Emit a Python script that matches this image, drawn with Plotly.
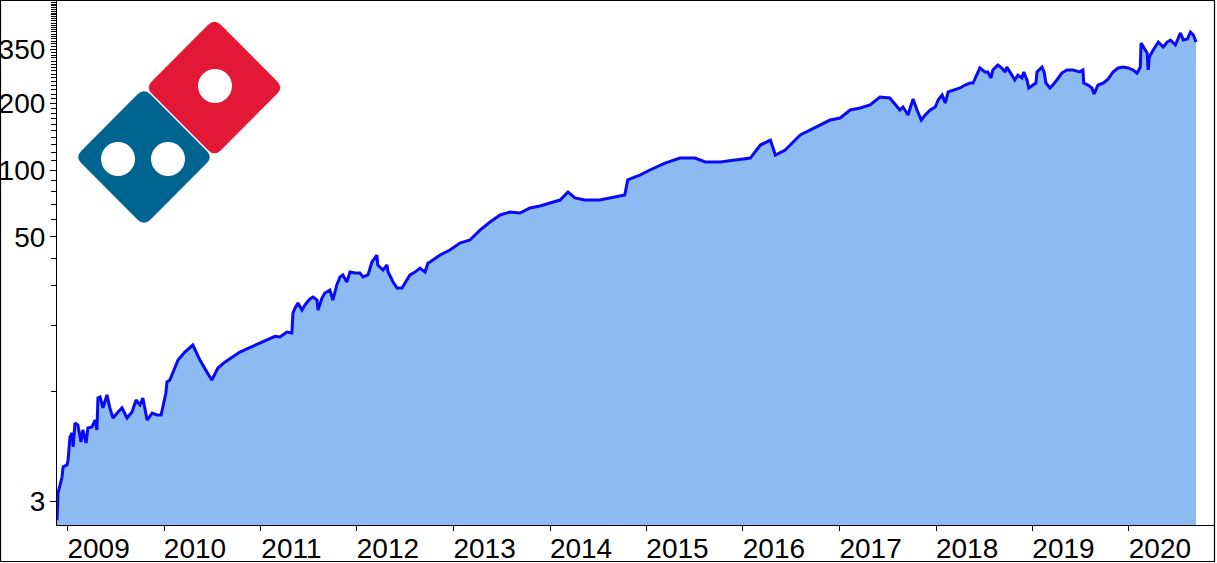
import plotly.graph_objects as go

# ---- data ----
dates = [
    "2008-11-22", "2008-11-26", "2008-12-11", "2008-12-15", "2008-12-30", "2009-01-03", "2009-01-10",
    "2009-01-18", "2009-01-22", "2009-01-29", "2009-02-09", "2009-02-21", "2009-02-28", "2009-03-12",
    "2009-03-19", "2009-04-03", "2009-04-15", "2009-04-22", "2009-04-26", "2009-05-04", "2009-05-15",
    "2009-05-30", "2009-06-10", "2009-06-22", "2009-07-11", "2009-07-26", "2009-08-14", "2009-09-02",
    "2009-09-17", "2009-10-02", "2009-10-13", "2009-10-21", "2009-10-29", "2009-11-17", "2009-12-05",
    "2009-12-21", "2009-12-28", "2010-01-08", "2010-01-12", "2010-01-23",
    "2010-02-23", "2010-03-21", "2010-04-20", "2010-05-17", "2010-06-12", "2010-07-01", "2010-07-24",
    "2010-08-19", "2010-10-15", "2010-12-23", "2011-02-25", "2011-03-16", "2011-04-11",
    "2011-04-30", "2011-05-04", "2011-05-12", "2011-05-23", "2011-06-07", "2011-06-18", "2011-07-07",
    "2011-07-19", "2011-08-03", "2011-08-07", "2011-08-22", "2011-09-02", "2011-09-21", "2011-10-02",
    "2011-10-17", "2011-10-29", "2011-11-09", "2011-11-24", "2011-12-06", "2011-12-25", "2012-01-13",
    "2012-01-24", "2012-02-12", "2012-02-27", "2012-03-17", "2012-03-20", "2012-04-09", "2012-04-24",
    "2012-04-28", "2012-05-17", "2012-06-01", "2012-06-20", "2012-07-01", "2012-07-20", "2012-08-08",
    "2012-08-27", "2012-09-15", "2012-09-26", "2012-10-04", "2012-11-11", "2012-12-18", "2013-01-25",
    "2013-03-04", "2013-04-11", "2013-05-19", "2013-06-26", "2013-08-03", "2013-09-09", "2013-10-17",
    "2013-11-24", "2014-01-01", "2014-02-08", "2014-03-10", "2014-04-05", "2014-05-13", "2014-07-08",
    "2014-09-03", "2014-10-11", "2014-10-22", "2014-12-07", "2015-01-14", "2015-03-12", "2015-05-08",
    "2015-07-04", "2015-08-11", "2015-10-07", "2015-12-03", "2016-01-29", "2016-03-07", "2016-04-14",
    "2016-05-03", "2016-06-09", "2016-08-05", "2016-10-20", "2016-11-26", "2017-01-03", "2017-02-10",
    "2017-03-20", "2017-04-26", "2017-06-03", "2017-07-10", "2017-08-17", "2017-08-29", "2017-09-17",
    "2017-10-06", "2017-10-21", "2017-11-06", "2017-11-21", "2017-12-10", "2017-12-29", "2018-01-09",
    "2018-01-24", "2018-02-05", "2018-02-16", "2018-03-07", "2018-04-02", "2018-04-21", "2018-05-10",
    "2018-05-21", "2018-06-05", "2018-06-16", "2018-07-05", "2018-07-16", "2018-07-28", "2018-08-04",
    "2018-08-23", "2018-09-07", "2018-09-19", "2018-09-26", "2018-10-15", "2018-10-26", "2018-11-07",
    "2018-11-22", "2018-11-29", "2018-12-11", "2018-12-18", "2019-01-03", "2019-01-14", "2019-01-18",
    "2019-02-06", "2019-02-14", "2019-02-21", "2019-03-08", "2019-03-19", "2019-04-03", "2019-04-22",
    "2019-05-11", "2019-06-03", "2019-06-29", "2019-07-11", "2019-07-14", "2019-07-30", "2019-08-14",
    "2019-08-22", "2019-09-06", "2019-09-25", "2019-10-14", "2019-11-02", "2019-11-21", "2019-12-10",
    "2019-12-29", "2020-01-17", "2020-02-01", "2020-02-13", "2020-02-16", "2020-02-24", "2020-03-10",
    "2020-03-14", "2020-03-18", "2020-04-02", "2020-04-21", "2020-05-10", "2020-05-25", "2020-06-06",
    "2020-06-25", "2020-07-14", "2020-07-25", "2020-08-09", "2020-08-21", "2020-09-01", "2020-09-11",
]
prices = [
    2.64, 3.50, 4.13, 4.58, 4.68, 4.93, 6.25,
    6.52, 5.64, 7.23, 7.08, 5.94, 6.73, 5.88,
    6.87, 6.94, 7.46, 6.73, 9.38, 9.48, 8.46,
    9.68, 8.46, 7.62, 8.11, 8.46, 7.62, 8.11,
    9.18, 8.73, 9.38, 8.46, 7.46, 8.02, 7.86,
    7.86, 8.73, 9.88, 11.06, 11.30,
    13.9, 15.1, 16.25, 13.9, 12.3, 11.3, 12.8,
    13.6, 15.1, 16.4, 17.8, 17.66, 18.61,
    18.41, 22.65, 23.87, 25.14, 23.38, 24.60, 26.21,
    26.76, 25.93, 23.38, 26.48, 27.87, 28.75, 25.93,
    30.31, 32.93, 33.63, 31.27, 34.67, 34.32, 34.32,
    32.93, 33.63, 38.48, 41.38, 37.30, 35.42, 37.30,
    34.67, 31.27, 29.36, 29.36, 30.94, 33.63, 34.67,
    36.14, 34.67, 38.08, 38.48, 41.38, 43.55, 46.86,
    48.35, 53.59, 58.30, 62.70, 64.70, 64.00, 67.40,
    68.80, 71.00, 73.20, 79.60, 74.80, 73.20, 73.20,
    75.50, 77.10, 90.20, 94.90, 100.0, 107.5, 113.2,
    113.2, 108.7, 108.7, 110.9, 113.2, 129.6, 136.5,
    116.8, 123.1, 143.8, 159.6, 168.0, 171.6, 186.5,
    190.4, 196.5, 213.4, 211.3, 186.5, 192.3, 177.0,
    208.9, 186.5, 168.0, 177.0, 186.5, 192.3, 206.9,
    217.8, 200.5, 224.9, 229.6, 234.4, 241.6, 246.6,
    246.6, 267.9, 288.4, 276.7, 276.7, 260.0, 282.5,
    297.3, 288.4, 276.7, 291.1, 267.9, 254.6, 267.9,
    260.0, 276.7, 254.6, 234.4, 241.6, 246.6, 276.7,
    291.1, 276.7, 246.6, 234.4, 241.6, 254.6, 273.5,
    282.5, 282.5, 276.7, 282.5, 246.6, 241.6, 234.4,
    220.3, 241.6, 246.6, 257.0, 276.7, 288.4, 291.1,
    288.4, 282.5, 273.5, 291.1, 373.8, 358.8, 337.1,
    282.5, 322.9, 347.5, 377.6, 358.8, 377.6, 385.5,
    366.2, 414.9, 385.5, 389.5, 418.8, 406.2, 377.6,
]

year_ticks = ["2009-01-01", "2010-01-01", "2011-01-01", "2012-01-01", "2013-01-01", "2014-01-01",
              "2015-01-01", "2016-01-01", "2017-01-01", "2018-01-01", "2019-01-01", "2020-01-01"]
year_labels = ["2009", "2010", "2011", "2012", "2013", "2014", "2015", "2016", "2017", "2018",
               "2019", "2020"]
y_tick_vals = [3.2, 50, 100, 200, 350]
y_tick_text = ["3", "50", "100", "200", "350"]
y_minor_vals = [v for v in range(10, 600, 10) if v not in (50, 100, 200, 350)]

# ---- layout geometry (pixels) ----
W, H = 1217, 563
ML, MR, MT, MB = 57, 3, 1, 38
PW, PH = W - ML - MR, H - MT - MB


def px(x):
    return (x - ML) / PW


def py(y):
    return (H - MB - y) / PH


fig = go.Figure()
fig.add_trace(go.Scatter(x=[dates[0], dates[-1]], y=[1, 1], mode="lines",
                         line=dict(width=0), hoverinfo="skip", showlegend=False))
fig.add_trace(go.Scatter(x=dates, y=prices, mode="lines", fill="tonexty",
                         fillcolor="#8BBBF0", line=dict(color="#0A0AF5", width=3),
                         showlegend=False))

shapes = []


def diamond(cx, cy, hd, r, color):
    # rounded rotated square (pixel geometry -> paper coords)
    pts = [(cx, cy - hd), (cx + hd, cy), (cx, cy + hd), (cx - hd, cy)]
    path = ""
    n = len(pts)

    def toward(a, b):
        L = ((b[0] - a[0]) ** 2 + (b[1] - a[1]) ** 2) ** 0.5
        return (a[0] + (b[0] - a[0]) * r / L, a[1] + (b[1] - a[1]) * r / L)

    for i in range(n):
        p = pts[i]
        a = toward(p, pts[i - 1])
        b = toward(p, pts[(i + 1) % n])
        cmd = "M" if i == 0 else "L"
        path += (f"{cmd}{px(a[0]):.5f},{py(a[1]):.5f} "
                 f"Q{px(p[0]):.5f},{py(p[1]):.5f} {px(b[0]):.5f},{py(b[1]):.5f} ")
    path += "Z"
    return dict(type="path", xref="paper", yref="paper", path=path,
                fillcolor=color, line=dict(width=0), layer="above")


def circle(cx, cy, r, color="white"):
    return dict(type="circle", xref="paper", yref="paper",
                x0=px(cx - r), x1=px(cx + r), y0=py(cy + r), y1=py(cy - r),
                fillcolor=color, line=dict(width=0), layer="above")


shapes.append(diamond(214.5, 87.5, 69, 9, "#E31837"))
shapes.append(diamond(144, 157, 69, 9, "#006491"))
shapes.append(circle(215, 86, 17))
shapes.append(circle(118, 159, 17))
shapes.append(circle(168, 159, 17))
# figure border
shapes.append(dict(type="rect", xref="paper", yref="paper",
                   x0=px(0.5), x1=px(1214.5), y0=py(561.5), y1=py(0.5),
                   line=dict(color="black", width=1.2), fillcolor="rgba(0,0,0,0)", layer="above"))

fig.update_layout(
    width=W, height=H,
    margin=dict(l=ML, r=MR, t=MT, b=MB, autoexpand=False),
    paper_bgcolor="white", plot_bgcolor="white",
    font=dict(family="Arial, Liberation Sans, sans-serif", size=28, color="black"),
    shapes=shapes,
    showlegend=False,
)
fig.update_xaxes(
    range=["2008-11-22", "2020-11-18"], automargin=False,
    tickmode="array", tickvals=year_ticks, ticktext=year_labels,
    ticks="outside", ticklen=5, tickcolor="black", tickwidth=1,
    showline=True, linecolor="black", linewidth=1.2, mirror=False,
    showgrid=False, zeroline=False, ticklabelshift=31, ticklabelstandoff=-7,
)
fig.update_yaxes(
    type="log", range=[0.3995, 2.762], automargin=False,
    tickmode="array", tickvals=y_tick_vals, ticktext=y_tick_text,
    ticks="outside", ticklen=6, tickcolor="black", tickwidth=1,
    minor=dict(tickmode="array", tickvals=y_minor_vals, ticks="outside", ticklen=5,
               tickcolor="black", tickwidth=1),
    showline=True, linecolor="black", linewidth=1.2,
    showgrid=False, zeroline=False, ticklabelstandoff=-1,
)

fig.write_html("out.html", config={"displayModeBar": False},
               post_script="document.body.style.margin='0';")
